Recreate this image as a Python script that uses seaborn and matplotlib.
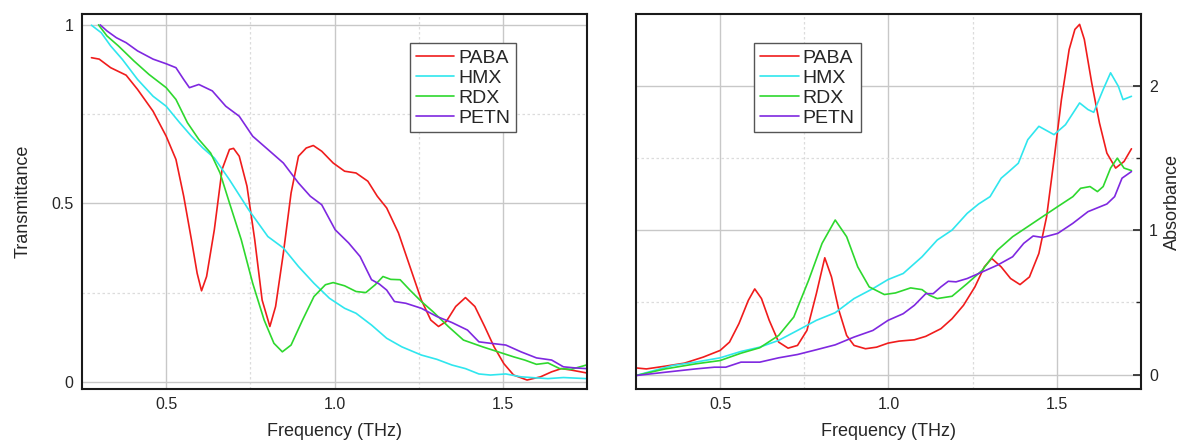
import numpy as np
import pandas as pd
import matplotlib
matplotlib.use("Agg")
import matplotlib.pyplot as plt
from matplotlib.ticker import FixedLocator
import seaborn as sns

# ---- Transmittance (left panel) ----
paba_t_f = [0.278, 0.301, 0.335, 0.381, 0.415, 0.461, 0.5, 0.529, 0.552, 0.575, 0.592, 0.605, 0.62,
            0.643, 0.666, 0.688, 0.7, 0.717, 0.74, 0.763, 0.785, 0.808, 0.825, 0.848, 0.871, 0.893,
            0.916, 0.937, 0.962, 0.996, 1.03, 1.064, 1.099, 1.127, 1.155, 1.19, 1.224, 1.258, 1.286,
            1.309, 1.332, 1.36, 1.389, 1.417, 1.446, 1.474, 1.503, 1.532, 1.572, 1.612, 1.645, 1.674,
            1.703, 1.748]
paba_t = [0.908, 0.904, 0.880, 0.859, 0.819, 0.758, 0.688, 0.623, 0.52, 0.398, 0.304, 0.255, 0.295,
          0.426, 0.595, 0.651, 0.654, 0.632, 0.548, 0.398, 0.229, 0.155, 0.211, 0.36, 0.529, 0.632,
          0.655, 0.662, 0.646, 0.613, 0.590, 0.585, 0.562, 0.52, 0.487, 0.417, 0.323, 0.229, 0.173,
          0.155, 0.169, 0.211, 0.236, 0.211, 0.155, 0.098, 0.051, 0.019, 0.005, 0.014, 0.028, 0.037,
          0.033, 0.025]

hmx_t_f = [0.278, 0.307, 0.335, 0.37, 0.415, 0.461, 0.5, 0.54, 0.575, 0.609, 0.643, 0.688, 0.745,
           0.802, 0.848, 0.893, 0.939, 0.985, 1.03, 1.064, 1.11, 1.155, 1.2, 1.258, 1.304, 1.349,
           1.389, 1.429, 1.463, 1.509, 1.554, 1.6, 1.634, 1.68, 1.748]
hmx_t = [0.999, 0.978, 0.941, 0.903, 0.847, 0.80, 0.772, 0.726, 0.688, 0.655, 0.627, 0.566, 0.482,
         0.407, 0.375, 0.323, 0.276, 0.234, 0.206, 0.192, 0.159, 0.122, 0.098, 0.075, 0.063, 0.047,
         0.037, 0.022, 0.019, 0.022, 0.014, 0.011, 0.009, 0.012, 0.009]

rdx_t_f = [0.299, 0.324, 0.358, 0.404, 0.449, 0.5, 0.529, 0.563, 0.597, 0.632, 0.66, 0.688, 0.723,
           0.757, 0.791, 0.82, 0.845, 0.871, 0.905, 0.939, 0.973, 0.996, 1.03, 1.064, 1.093, 1.121,
           1.144, 1.167, 1.195, 1.224, 1.258, 1.292, 1.338, 1.383, 1.44, 1.486, 1.532, 1.565, 1.6,
           1.634, 1.669, 1.703, 1.748]
rdx_t = [1.0, 0.969, 0.941, 0.899, 0.861, 0.824, 0.791, 0.726, 0.679, 0.641, 0.585, 0.501, 0.398,
         0.276, 0.173, 0.108, 0.084, 0.103, 0.173, 0.239, 0.272, 0.278, 0.269, 0.253, 0.25, 0.272,
         0.295, 0.287, 0.286, 0.257, 0.225, 0.197, 0.155, 0.117, 0.098, 0.084, 0.07, 0.061, 0.049,
         0.053, 0.037, 0.035, 0.047]

petn_t_f = [0.304, 0.324, 0.352, 0.381, 0.415, 0.461, 0.5, 0.529, 0.552, 0.569, 0.597, 0.637, 0.677,
            0.717, 0.757, 0.802, 0.848, 0.893, 0.928, 0.962, 1.002, 1.042, 1.076, 1.11, 1.133, 1.155,
            1.178, 1.212, 1.258, 1.304, 1.349, 1.395, 1.429, 1.463, 1.509, 1.554, 1.6, 1.645, 1.68,
            1.714, 1.748]
petn_t = [1.0, 0.983, 0.964, 0.95, 0.927, 0.904, 0.891, 0.880, 0.847, 0.824, 0.833, 0.815, 0.772,
          0.744, 0.688, 0.651, 0.613, 0.557, 0.52, 0.496, 0.426, 0.389, 0.351, 0.286, 0.274, 0.257,
          0.225, 0.220, 0.206, 0.183, 0.166, 0.145, 0.112, 0.108, 0.103, 0.084, 0.067, 0.061, 0.042,
          0.039, 0.037]

# ---- Absorbance (right panel) ----
paba_a_f = [0.25, 0.281, 0.337, 0.394, 0.45, 0.5, 0.528, 0.556, 0.584, 0.603, 0.623, 0.646, 0.674,
            0.702, 0.73, 0.758, 0.786, 0.811, 0.831, 0.853, 0.876, 0.898, 0.932, 0.965, 0.999, 1.032,
            1.077, 1.111, 1.156, 1.189, 1.223, 1.257, 1.285, 1.307, 1.335, 1.363, 1.391, 1.419, 1.447,
            1.47, 1.492, 1.514, 1.537, 1.554, 1.568, 1.582, 1.604, 1.627, 1.649, 1.675, 1.7, 1.722]
paba_a = [0.046, 0.039, 0.058, 0.079, 0.121, 0.167, 0.225, 0.353, 0.515, 0.594, 0.527, 0.376, 0.225,
          0.183, 0.202, 0.306, 0.561, 0.81, 0.677, 0.445, 0.271, 0.202, 0.179, 0.19, 0.218, 0.232,
          0.241, 0.265, 0.318, 0.387, 0.48, 0.608, 0.747, 0.805, 0.747, 0.666, 0.624, 0.677, 0.84,
          1.095, 1.49, 1.907, 2.255, 2.394, 2.429, 2.325, 2.023, 1.745, 1.536, 1.432, 1.478, 1.566]

hmx_a_f = [0.25, 0.304, 0.36, 0.427, 0.5, 0.562, 0.618, 0.674, 0.73, 0.786, 0.842, 0.898, 0.954,
           0.999, 1.044, 1.1, 1.145, 1.189, 1.234, 1.268, 1.302, 1.335, 1.358, 1.386, 1.414, 1.447,
           1.492, 1.526, 1.568, 1.593, 1.61, 1.638, 1.66, 1.683, 1.697, 1.722]
hmx_a = [-0.007, 0.028, 0.063, 0.086, 0.116, 0.16, 0.19, 0.237, 0.306, 0.376, 0.429, 0.527, 0.596,
         0.659, 0.701, 0.817, 0.933, 1.002, 1.118, 1.183, 1.234, 1.362, 1.408, 1.466, 1.629, 1.722,
         1.664, 1.733, 1.884, 1.838, 1.819, 1.977, 2.093, 2.0, 1.907, 1.93]

rdx_a_f = [0.25, 0.337, 0.427, 0.5, 0.562, 0.618, 0.674, 0.719, 0.763, 0.803, 0.842, 0.876, 0.909,
           0.943, 0.988, 1.021, 1.066, 1.1, 1.122, 1.145, 1.189, 1.234, 1.279, 1.324, 1.369, 1.414,
           1.458, 1.503, 1.548, 1.571, 1.599, 1.621, 1.638, 1.66, 1.68, 1.7, 1.722]
rdx_a = [-0.007, 0.039, 0.074, 0.097, 0.148, 0.186, 0.271, 0.399, 0.654, 0.91, 1.072, 0.956, 0.747,
         0.608, 0.555, 0.566, 0.601, 0.589, 0.55, 0.527, 0.543, 0.631, 0.724, 0.863, 0.956, 1.026,
         1.095, 1.165, 1.234, 1.292, 1.304, 1.269, 1.304, 1.432, 1.501, 1.432, 1.415]

petn_a_f = [0.25, 0.337, 0.427, 0.483, 0.517, 0.562, 0.618, 0.674, 0.73, 0.786, 0.842, 0.898, 0.954,
            0.999, 1.044, 1.077, 1.111, 1.133, 1.156, 1.178, 1.201, 1.234, 1.279, 1.324, 1.369, 1.402,
            1.43, 1.458, 1.503, 1.548, 1.593, 1.649, 1.672, 1.694, 1.722]
petn_a = [-0.007, 0.016, 0.039, 0.051, 0.051, 0.086, 0.086, 0.116, 0.139, 0.172, 0.206, 0.26, 0.306,
          0.376, 0.422, 0.48, 0.561, 0.561, 0.608, 0.647, 0.643, 0.666, 0.712, 0.759, 0.817, 0.91,
          0.961, 0.951, 0.979, 1.049, 1.13, 1.183, 1.234, 1.362, 1.408]

names = ["PABA", "HMX", "RDX", "PETN"]
colors = {"PABA": "#f01c1c", "HMX": "#2fe6ee", "RDX": "#2ed82e", "PETN": "#7f28e0"}


def make_frame(series):
    parts = []
    for name, (f, v) in zip(names, series):
        parts.append(pd.DataFrame({"freq": f, "val": v, "sample": name}))
    return pd.concat(parts, ignore_index=True)


trans = make_frame([(paba_t_f, paba_t), (hmx_t_f, hmx_t), (rdx_t_f, rdx_t), (petn_t_f, petn_t)])
absorb = make_frame([(paba_a_f, paba_a), (hmx_a_f, hmx_a), (rdx_a_f, rdx_a), (petn_a_f, petn_a)])

sns.set_style("white")
plt.rcParams["font.family"] = ["Liberation Sans", "DejaVu Sans"]

fig = plt.figure(figsize=(11.82, 4.42), dpi=100)
ax1 = fig.add_axes([0.0694, 0.12, 0.4272, 0.848])
ax2 = fig.add_axes([0.538, 0.12, 0.4272, 0.848])


def style_axes(ax, ylim, major_y, minor_y, ylabels):
    ax.set_xlim(0.25, 1.75)
    ax.set_ylim(*ylim)
    ax.xaxis.set_major_locator(FixedLocator([0.5, 1.0, 1.5]))
    ax.xaxis.set_minor_locator(FixedLocator([0.75, 1.25]))
    ax.set_xticklabels(["0.5", "1.0", "1.5"])
    ax.yaxis.set_major_locator(FixedLocator(major_y))
    ax.yaxis.set_minor_locator(FixedLocator(minor_y))
    ax.set_yticklabels(ylabels)
    ax.grid(True, which="major", color="#c8c8c8", linewidth=1.0, linestyle="-")
    ax.grid(True, which="minor", color="#dcdcdc", linewidth=0.9, linestyle=(0, (2, 2)))
    ax.set_axisbelow(True)
    ax.tick_params(which="major", direction="in", length=6, width=1.2, labelsize=11.5, pad=6)
    ax.tick_params(which="minor", direction="in", length=3.5, width=1.0)
    for sp in ax.spines.values():
        sp.set_color("#1a1a1a")
        sp.set_linewidth(1.5)
    ax.set_xlabel("Frequency (THz)", fontsize=13, labelpad=8)


for ax, df in [(ax1, trans), (ax2, absorb)]:
    for name in names:
        sub = df[df["sample"] == name]
        sns.lineplot(data=sub, x="freq", y="val", ax=ax, color=colors[name], linewidth=1.2,
                     label=name, sort=False, estimator=None)

style_axes(ax1, (-0.02, 1.03), [0, 0.5, 1], [0.25, 0.75], ["0", "0.5", "1"])
ax1.set_ylabel("Transmittance", fontsize=13, labelpad=14)

style_axes(ax2, (-0.1, 2.5), [0, 1, 2], [0.5, 1.5], ["0", "1", "2"])
ax2.yaxis.tick_right()
ax2.yaxis.set_label_position("right")
ax2.tick_params(axis="y", which="both", left=False, right=True)
ax2.set_ylabel("Absorbance", fontsize=13, labelpad=4)

for ax, x0 in [(ax1, 0.649), (ax2, 0.234)]:
    leg = ax.legend(loc="upper left", bbox_to_anchor=(x0, 0.922), fontsize=14,
                    handlelength=2.0, handletextpad=0.2, labelspacing=0.12,
                    borderpad=0.3, borderaxespad=0, fancybox=False, framealpha=1)
    leg.get_frame().set_edgecolor("#555555")
    leg.get_frame().set_linewidth(1.0)

fig.savefig("out.png", dpi=100)
